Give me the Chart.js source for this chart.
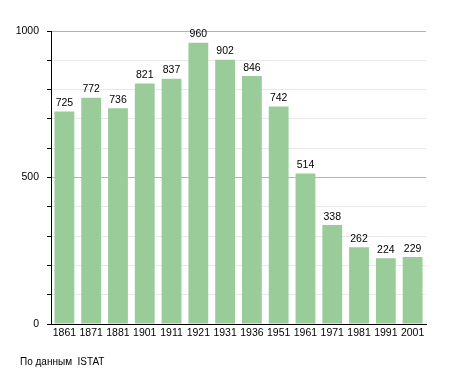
<!DOCTYPE html>
<html>
<head>
<meta charset="utf-8">
<script src="https://cdn.jsdelivr.net/npm/chart.js@4/dist/chart.umd.min.js"></script>
<style>
html,body{margin:0;padding:0;background:#fff;}
#wrap{width:455px;height:373px;position:relative;}
</style>
</head>
<body>
<div id="wrap"><canvas id="c" width="455" height="373"></canvas></div>
<script>
const categories = ["1861","1871","1881","1901","1911","1921","1931","1936","1951","1961","1971","1981","1991","2001"];
const population = [725,772,736,821,837,960,902,846,742,514,338,262,224,229];
const yTickLabels = [0,500,1000];
const sourceText = "По данным  ISTAT";

const FONT = '"Liberation Sans", Arial, Helvetica, sans-serif';

const labelsPlugin = {
  id: 'labels',
  afterDatasetsDraw(chart) {
    const ctx = chart.ctx;
    const meta = chart.getDatasetMeta(0);
    ctx.save();
    ctx.font = '10.5px ' + FONT;
    ctx.fillStyle = '#000';
    ctx.textAlign = 'center';
    ctx.textBaseline = 'bottom';
    meta.data.forEach((bar, i) => {
      ctx.fillText(String(population[i]), bar.x, bar.y - 3);
    });
    ctx.font = '10px ' + FONT;
    ctx.textAlign = 'left';
    ctx.textBaseline = 'middle';
    ctx.fillText(sourceText, 20, 362);
    ctx.restore();
  }
};

new Chart(document.getElementById('c'), {
  type: 'bar',
  data: {
    labels: categories,
    datasets: [{
      data: population,
      backgroundColor: '#99cc99',
      borderWidth: 0,
      categoryPercentage: 1,
      barPercentage: 0.74
    }]
  },
  options: {
    responsive: false,
    animation: false,
    devicePixelRatio: 1,
    layout: { padding: { top: 31, right: 29, left: 0, bottom: 0 } },
    plugins: { legend: { display: false }, tooltip: { enabled: false } },
    scales: {
      x: {
        grid: { display: false, drawTicks: false },
        border: { display: true, color: '#000', width: 1 },
        ticks: { font: { size: 10.5, family: FONT }, color: '#000', padding: 3, maxRotation: 0, autoSkip: false },
        afterFit(s) { s.height = 49; }
      },
      y: {
        min: 0, max: 1000,
        grid: {
          color: ctx => (ctx.tick && yTickLabels.includes(ctx.tick.value)) ? '#b4b4b4' : '#e8e8e8',
          tickColor: '#000',
          tickLength: 4,
          drawTicks: true
        },
        border: { display: true, color: '#000', width: 1 },
        ticks: {
          stepSize: 100,
          font: { size: 10.5, family: FONT },
          color: '#000',
          padding: 8,
          callback: v => yTickLabels.includes(v) ? String(v) : ''
        },
        afterFit(s) { s.width = 51; }
      }
    }
  },
  plugins: [labelsPlugin]
});
</script>
</body>
</html>
